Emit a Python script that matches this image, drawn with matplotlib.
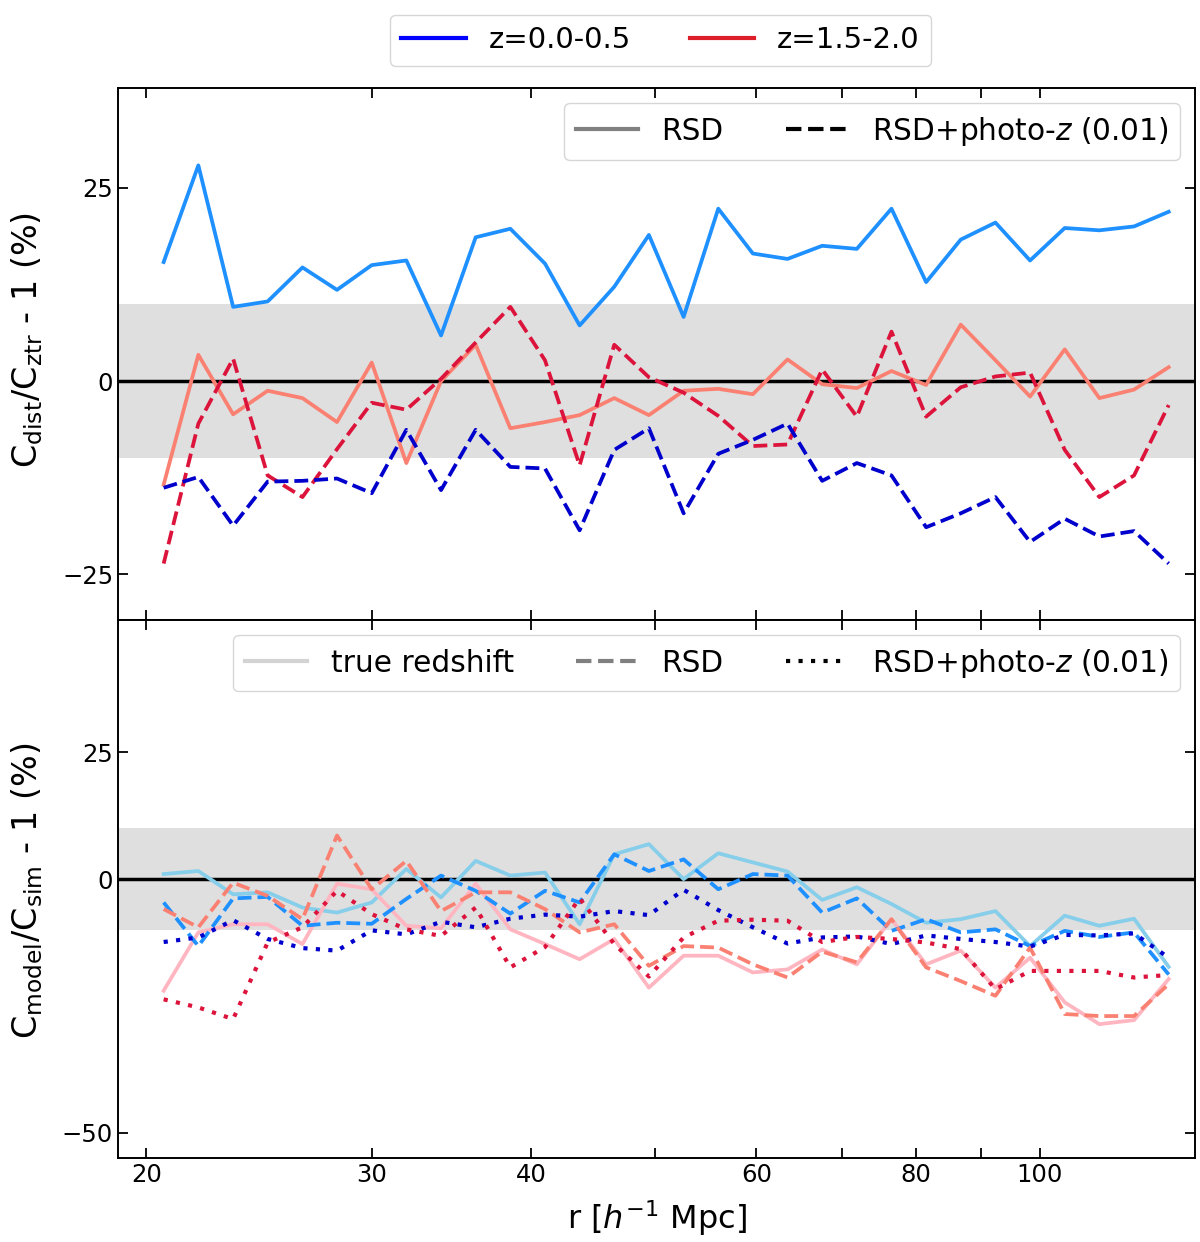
import matplotlib
matplotlib.use("Agg")
import matplotlib.pyplot as plt
from matplotlib.lines import Line2D
from matplotlib.ticker import FixedLocator, FixedFormatter, NullFormatter

# separation bins r [h^-1 Mpc]
r = [20.63, 21.96, 23.38, 24.88, 26.49, 28.19, 30.01, 31.94, 34.00, 36.19,
     38.52, 41.00, 43.64, 46.45, 49.44, 52.63, 56.02, 59.62, 63.46, 67.55,
     71.90, 76.53, 81.46, 86.70, 92.29, 98.23, 104.56, 111.29, 118.46, 126.09]

# top panel: C_dist/C_ztr - 1 (%)
top_rsd_lowz = [15.4, 27.9, 9.6, 10.3, 14.7, 11.8, 15.0, 15.6, 5.9, 18.6,
                19.7, 15.2, 7.2, 12.2, 18.9, 8.3, 22.3, 16.5, 15.8, 17.5,
                17.1, 22.3, 12.8, 18.3, 20.5, 15.6, 19.8, 19.5, 20.0, 21.9]
top_rsd_highz = [-13.4, 3.4, -4.3, -1.25, -2.2, -5.3, 2.4, -10.6, 0.0, 4.7,
                 -6.1, -5.3, -4.4, -2.2, -4.4, -1.25, -1.0, -1.7, 2.8, -0.4,
                 -0.9, 1.3, -0.5, 7.3, 2.7, -2.0, 4.1, -2.2, -1.1, 1.8]
top_pz_lowz = [-13.8, -12.4, -18.7, -13.0, -12.9, -12.6, -14.5, -6.3, -14.1, -6.3,
               -11.1, -11.3, -19.3, -8.9, -6.1, -17.1, -9.4, -7.6, -5.5, -12.9,
               -10.6, -12.2, -18.9, -17.1, -15.0, -20.8, -17.8, -20.1, -19.4, -23.6]
top_pz_highz = [-23.6, -5.5, 2.9, -12.2, -15.0, -8.8, -2.8, -3.7, 0.3, 5.0,
                9.6, 2.7, -10.9, 4.7, 0.5, -1.5, -4.5, -8.4, -8.2, 1.5,
                -4.6, 6.4, -4.6, -0.8, 0.6, 1.1, -8.9, -15.0, -12.2, -3.1]

# bottom panel: C_model/C_sim - 1 (%)
bot_true_lowz = [1.0, 1.6, -3.0, -2.6, -5.6, -6.6, -4.6, 2.0, -3.6, 3.6,
                 0.7, 1.3, -8.9, 4.9, 6.9, 0.0, 5.1, 3.3, 1.5, -4.1,
                 -1.6, -4.9, -8.6, -7.9, -6.3, -13.2, -7.2, -9.2, -7.8, -17.3]
bot_true_highz = [-22.0, -10.5, -8.9, -8.9, -12.8, -0.9, -2.0, -9.2, -9.7, -0.9,
                  -9.9, -12.8, -15.8, -11.8, -21.4, -15.1, -15.1, -18.4, -17.8, -13.9,
                  -16.8, -7.9, -16.8, -14.1, -21.4, -15.5, -24.3, -28.6, -27.8, -19.7]
bot_rsd_lowz = [-4.6, -13.2, -3.8, -3.5, -9.2, -8.6, -8.8, -3.9, 0.7, -2.3,
                -6.8, -2.3, -4.6, 4.9, 1.6, 3.9, -2.0, 1.0, 0.7, -6.6,
                -3.8, -10.2, -7.9, -10.5, -9.9, -13.2, -10.2, -11.4, -10.5, -18.8]
bot_rsd_highz = [-5.9, -9.5, -0.7, -3.3, -7.9, 8.6, -2.0, 3.6, -6.3, -2.6,
                 -2.6, -5.9, -10.5, -8.9, -17.1, -13.2, -13.5, -16.8, -19.4, -14.3,
                 -16.4, -7.9, -17.4, -20.1, -23.0, -13.5, -26.6, -27.0, -27.0, -20.7]
bot_pz_lowz = [-12.4, -11.5, -8.1, -11.8, -13.6, -14.1, -10.1, -10.9, -8.4, -9.5,
               -7.8, -7.0, -7.4, -6.3, -7.1, -2.1, -6.1, -9.5, -12.7, -11.5,
               -11.3, -12.8, -11.1, -11.8, -12.4, -13.3, -11.0, -11.1, -10.7, -15.5]
bot_pz_highz = [-23.7, -25.3, -27.6, -12.5, -9.5, -2.3, -6.9, -9.9, -11.2, -5.6,
                -17.4, -13.4, -3.8, -12.8, -19.2, -11.5, -8.2, -8.0, -8.2, -12.4,
                -11.4, -11.8, -12.5, -13.8, -21.7, -18.1, -18.1, -18.1, -19.4, -18.9]

xticks_major = [20, 30, 40, 60, 80, 100]
xticks_minor = [50, 70, 90]
band = (-10, 10)

fig = plt.figure(figsize=(12, 12.42), dpi=100)
ax1 = fig.add_axes([0.0983, 0.5008, 0.8975, 0.4283])
ax2 = fig.add_axes([0.0983, 0.0676, 0.8975, 0.4332])

LW = 2.7
DOT = (0, (1.0, 2.0))

# top panel
ax1.axhspan(*band, color='#dfdfdf', zorder=0, lw=0)
ax1.axhline(0, color='black', lw=2.5, zorder=1)
ax1.plot(r, top_rsd_lowz, color='#1e90ff', lw=LW, zorder=2)
ax1.plot(r, top_rsd_highz, color='#fa8072', lw=LW, zorder=2)
ax1.plot(r, top_pz_highz, color='#dc143c', lw=LW, ls='--', zorder=3)
ax1.plot(r, top_pz_lowz, color='#0000cd', lw=LW, ls='--', zorder=3)

# bottom panel
ax2.axhspan(*band, color='#dfdfdf', zorder=0, lw=0)
ax2.axhline(0, color='black', lw=2.5, zorder=1)
ax2.plot(r, bot_true_lowz, color='#87ceeb', lw=LW, zorder=2)
ax2.plot(r, bot_true_highz, color='#ffb6c1', lw=LW, zorder=2)
ax2.plot(r, bot_rsd_lowz, color='#1e90ff', lw=LW, ls='--', zorder=3)
ax2.plot(r, bot_rsd_highz, color='#fa8072', lw=LW, ls='--', zorder=3)
ax2.plot(r, bot_pz_lowz, color='#0000cd', lw=3.0, ls=DOT, zorder=4)
ax2.plot(r, bot_pz_highz, color='#dc143c', lw=3.0, ls=DOT, zorder=4)

for ax in (ax1, ax2):
    ax.set_xscale('log')
    ax.set_xlim(19.0, 132.2)
    ax.xaxis.set_major_locator(FixedLocator(xticks_major))
    ax.xaxis.set_major_formatter(FixedFormatter([str(v) for v in xticks_major]))
    ax.xaxis.set_minor_locator(FixedLocator(xticks_minor))
    ax.xaxis.set_minor_formatter(NullFormatter())
    ax.tick_params(which='both', direction='in', top=True, right=True,
                   length=7, width=1.3, labelsize=17.5)
    for s in ax.spines.values():
        s.set_linewidth(1.4)

ax1.set_ylim(-30.9, 37.9)
ax1.set_yticks([-25, 0, 25])
ax1.tick_params(labelbottom=False)
ax2.set_ylim(-55.0, 51.1)
ax2.set_yticks([-50, 0, 25])

ax1.set_ylabel(r'$\mathregular{C_{dist}/C_{ztr}}$ - 1 (%)', fontsize=24)
ax2.set_ylabel(r'$\mathregular{C_{model}/C_{sim}}$ - 1 (%)', fontsize=24)
ax1.yaxis.set_label_coords(-0.068, 0.527)
ax2.yaxis.set_label_coords(-0.068, 0.497)
ax2.set_xlabel(r'r [$h^{-1}$ Mpc]', fontsize=23, labelpad=8)

# legends
h1 = [Line2D([], [], color='gray', lw=3),
      Line2D([], [], color='black', lw=3, ls='--')]
ax1.legend(h1, ['RSD', r'RSD+photo-$z$ (0.01)'], loc='upper right', ncol=2,
           fontsize=21.3, handlelength=2.1, columnspacing=2.1,
           borderaxespad=0.5, fancybox=True)

h2 = [Line2D([], [], color='lightgray', lw=3),
      Line2D([], [], color='gray', lw=3, ls='--'),
      Line2D([], [], color='black', lw=3, ls=DOT)]
ax2.legend(h2, ['true redshift', 'RSD', r'RSD+photo-$z$ (0.01)'], loc='upper right',
           ncol=3, fontsize=21.3, handlelength=2.1, columnspacing=2.1,
           borderaxespad=0.5, fancybox=True)

hf = [Line2D([], [], color='#0000ff', lw=3),
      Line2D([], [], color='#dc1e28', lw=3)]
fig.legend(hf, ['z=0.0-0.5', 'z=1.5-2.0'], loc='upper center', ncol=2,
           bbox_to_anchor=(0.5505, 1.0), fontsize=21, handlelength=2.2,
           columnspacing=2.0, fancybox=True)

fig.savefig('out.png', dpi=100)
